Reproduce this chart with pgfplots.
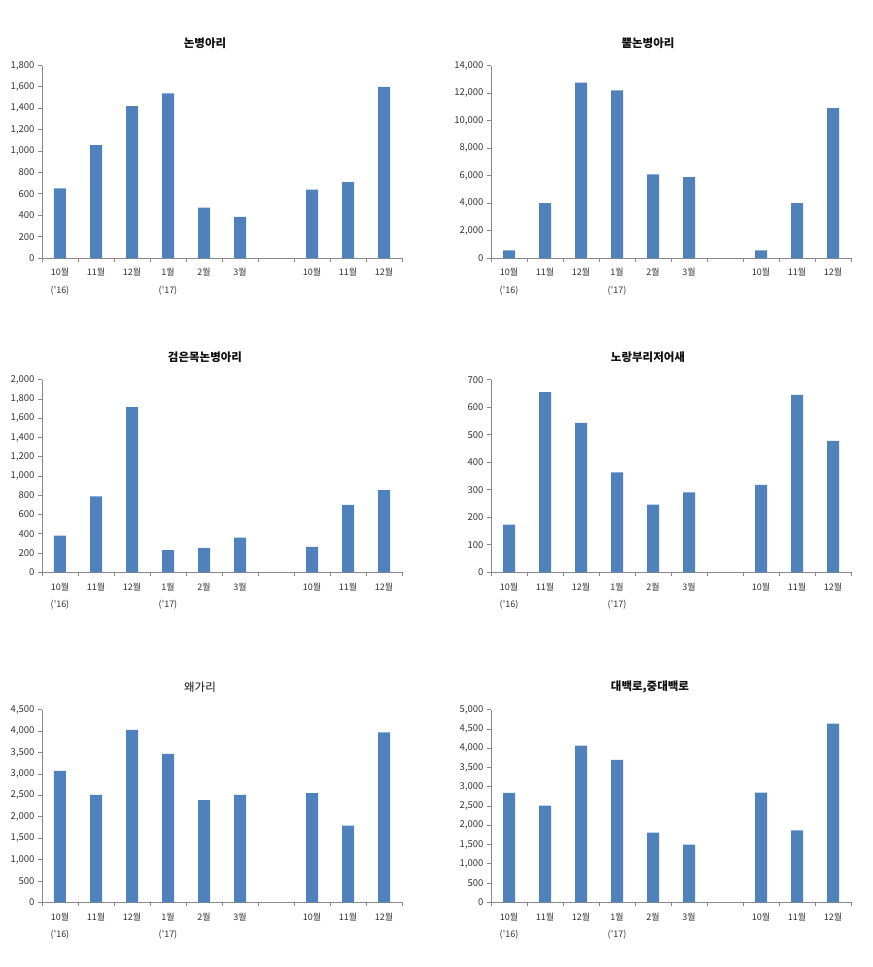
\documentclass[border=0pt]{standalone}
\usepackage{pgfplots}
\pgfplotsset{compat=1.18}
\usepackage{fontspec}
\newfontfamily\kr{Noto Sans CJK KR}
\definecolor{barblue}{HTML}{4F81BD}
\definecolor{axgray}{HTML}{888888}
\definecolor{txt}{HTML}{333333}
\definecolor{ttl}{HTML}{111111}
\pgfplotsset{
 panel/.style={
  scale only axis, width=360pt, height=192.5pt,
  anchor=south west,
  xmin=0.5, xmax=10.5, ymin=0,
  axis x line*=bottom, axis y line*=left,
  axis line style={axgray, line width=0.8pt, -},
  xtick={1,...,10},
  xticklabels={{10월\\('16)},11월,12월,{1월\\('17)},2월,3월,{},10월,11월,12월},
  minor xtick={0.5,1.5,...,10.5},
  major x tick style={draw=none},
  minor tick length=4pt, major tick length=4pt,
  tick align=outside,
  tick style={axgray, line width=0.8pt},
  yticklabel style={font=\kr\fontsize{9.5}{17}\selectfont, text=txt},
  xticklabel style={font=\kr\fontsize{9}{17.5}\selectfont, text=txt, align=center, anchor=north, yshift=-3pt},
  scaled y ticks=false,
  /pgf/number format/assume math mode=true,
  /pgf/number format/1000 sep={,},
  clip=false,
 },
 bars/.style={ybar, bar width=12pt, fill=barblue, draw=none},
}
\begin{document}
\begin{tikzpicture}
\useasboundingbox (0,0) rectangle (873pt,-967pt);
\tikzset{ttlnode/.style={font=\kr\bfseries\fontsize{11.5}{12}\selectfont, text=ttl}}
% Panel 1
\node[ttlnode] at (205pt,-43pt) {논병아리};
\begin{axis}[panel, at={(42pt,-258pt)}, ymax=1800, ytick={0,200,...,1800}]
\addplot[bars] coordinates {(1,650) (2,1055) (3,1420) (4,1540) (5,470) (6,385) (8,640) (9,710) (10,1600)};
\end{axis}
% Panel 2
\node[ttlnode] at (648pt,-43pt) {뿔논병아리};
\begin{axis}[panel, at={(491pt,-258pt)}, ymax=14000, ytick={0,2000,...,14000}]
\addplot[bars] coordinates {(1,560) (2,4000) (3,12750) (4,12200) (5,6080) (6,5880) (8,560) (9,4000) (10,10900)};
\end{axis}
% Panel 3
\node[ttlnode] at (205pt,-357pt) {검은목논병아리};
\begin{axis}[panel, at={(42pt,-572.3pt)}, ymax=2000, ytick={0,200,...,2000}]
\addplot[bars] coordinates {(1,380) (2,790) (3,1715) (4,230) (5,255) (6,360) (8,265) (9,700) (10,855)};
\end{axis}
% Panel 4
\node[ttlnode] at (648pt,-357pt) {노랑부리저어새};
\begin{axis}[panel, at={(491pt,-572.3pt)}, ymax=700, ytick={0,100,...,700}]
\addplot[bars] coordinates {(1,173) (2,655) (3,543) (4,363) (5,246) (6,291) (8,318) (9,645) (10,478)};
\end{axis}
% Panel 5
\node[font=\kr\fontsize{11.5}{12}\selectfont, text=ttl] at (200pt,-687pt) {왜가리};
\begin{axis}[panel, at={(42pt,-902.3pt)}, ymax=4500, ytick={0,500,...,4500}]
\addplot[bars] coordinates {(1,3070) (2,2510) (3,4030) (4,3470) (5,2390) (6,2510) (8,2550) (9,1790) (10,3970)};
\end{axis}
% Panel 6
\node[ttlnode] at (650pt,-687pt) {대백로,중대백로};
\begin{axis}[panel, at={(491pt,-902.3pt)}, ymax=5000, ytick={0,500,...,5000}]
\addplot[bars] coordinates {(1,2840) (2,2510) (3,4070) (4,3700) (5,1810) (6,1500) (8,2850) (9,1870) (10,4640)};
\end{axis}
\end{tikzpicture}
\end{document}
